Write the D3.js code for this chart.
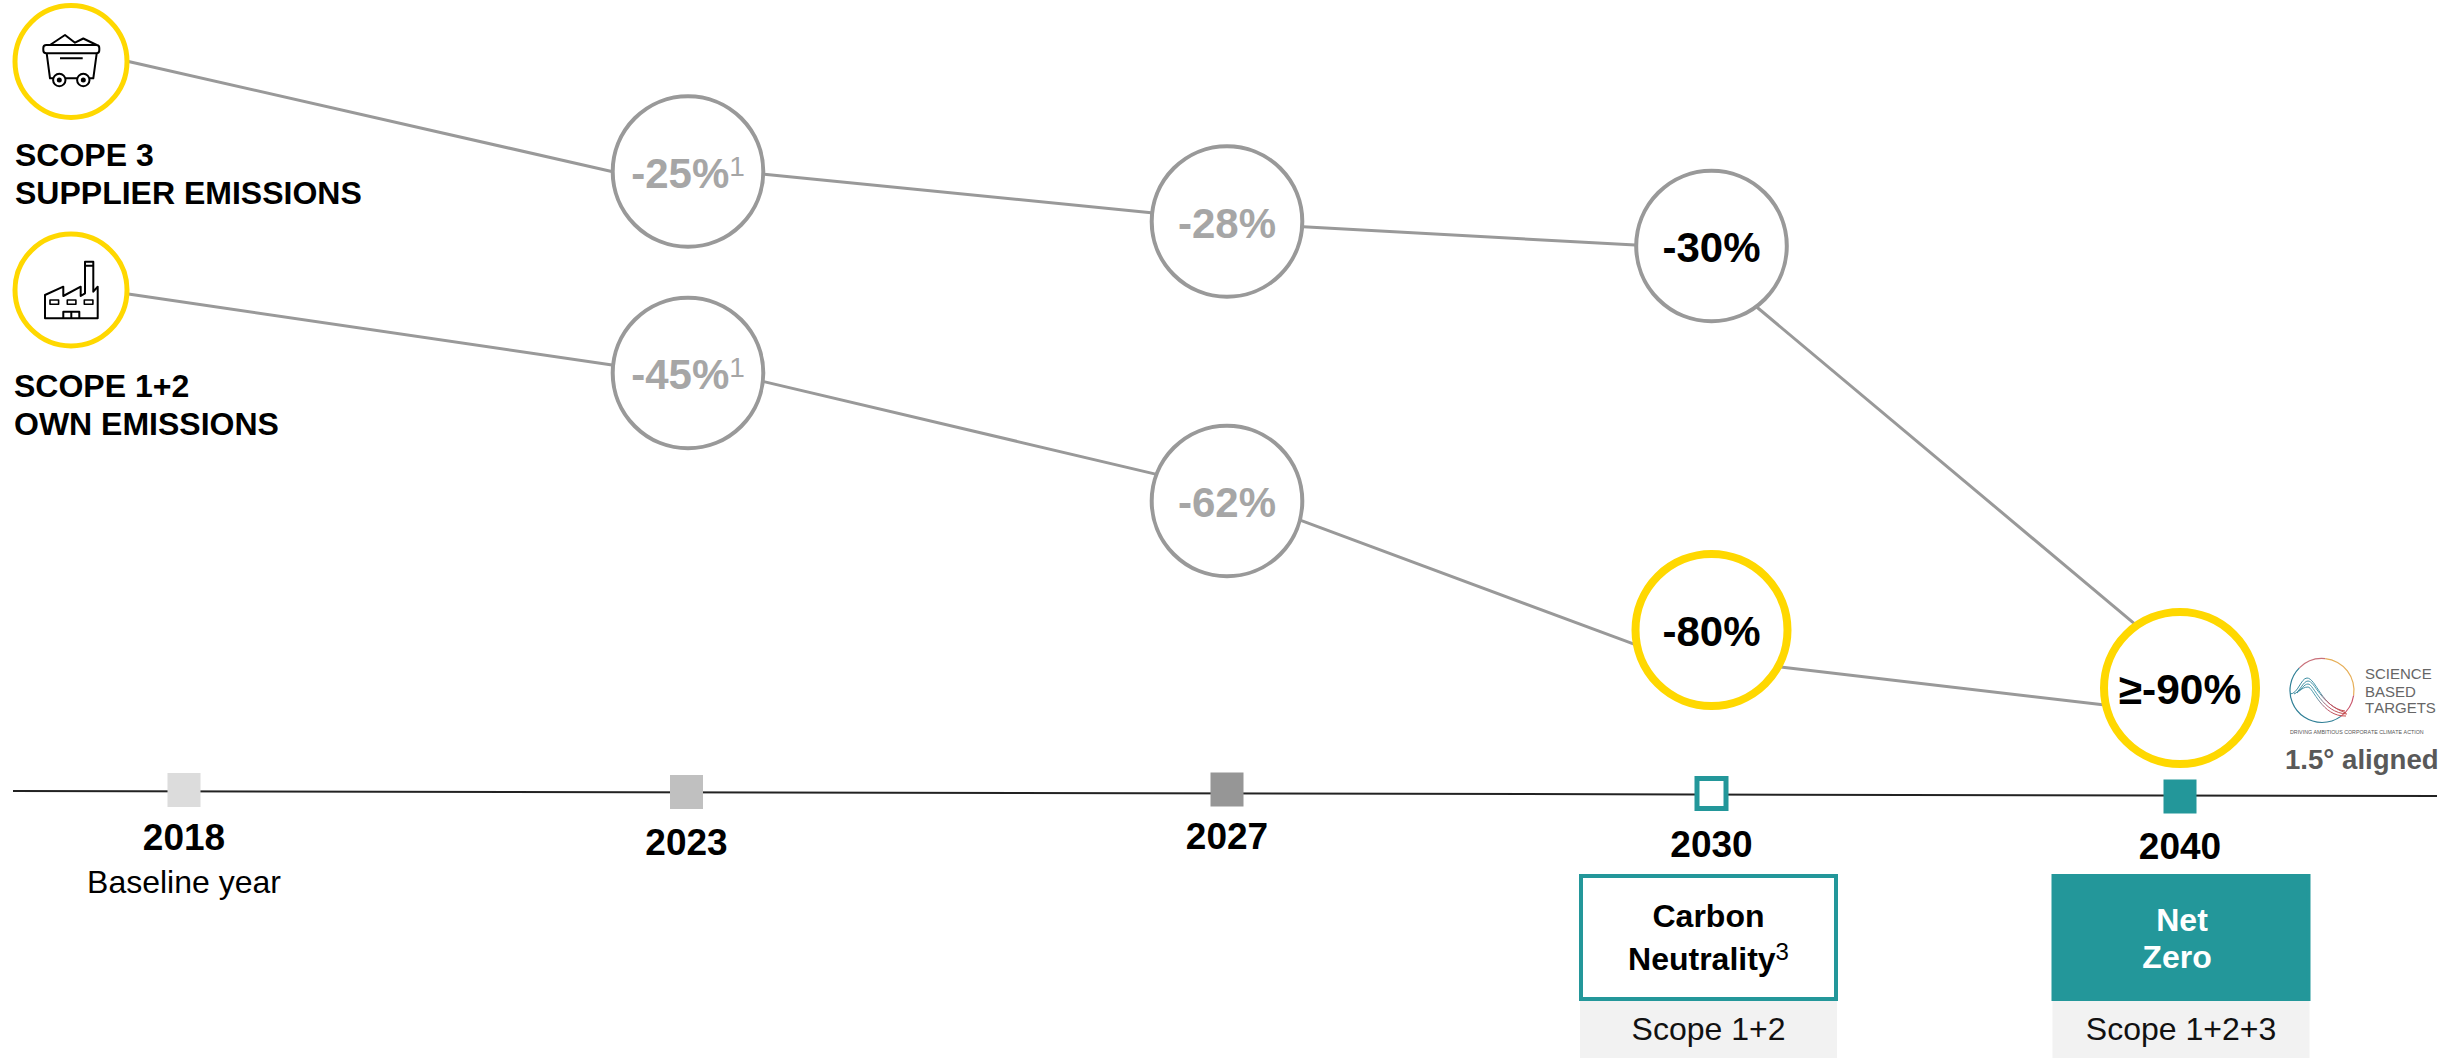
<!DOCTYPE html>
<html>
<head>
<meta charset="utf-8">
<title>Emission reduction targets</title>
<script src="https://cdn.jsdelivr.net/npm/d3@7/dist/d3.min.js"></script>
<style>
  html, body { margin: 0; padding: 0; background: #fff; }
  svg { display: block; }
  text { font-family: "Liberation Sans", Arial, sans-serif; font-kerning: none; }
</style>
</head>
<body>
<script>
// ---- Data ----
const years = [2018, 2023, 2027, 2030, 2040];
const yearNotes = ["Baseline year", "", "", "", ""];
const scope3Values = [0, -25, -28, -30, -90];
const scope12Values = [0, -45, -62, -80, -90];
const scope3Labels = ["", "-25%", "-28%", "-30%", "≥-90%"];
const scope12Labels = ["", "-45%", "-62%", "-80%", "≥-90%"];
const scope3Notes = ["", "1", "", "", ""];
const scope12Notes = ["", "1", "", "", ""];
const scope3Title = ["SCOPE 3", "SUPPLIER EMISSIONS"];
const scope12Title = ["SCOPE 1+2", "OWN EMISSIONS"];
const targetNames = [["Carbon", "Neutrality"], ["Net", "Zero"]];
const targetScopes = ["Scope 1+2", "Scope 1+2+3"];
const targetYears = [2030, 2040];
const logoWords = ["SCIENCE", "BASED", "TARGETS"];
const logoTagline = "DRIVING AMBITIOUS CORPORATE CLIMATE ACTION";
const alignmentNote = "1.5° aligned";

// ---- Palette ----
const teal = "#23979a", yellow = "#ffd800", grey = "#999999", greyText = "#a6a6a6";
const tickFills = d3.scaleOrdinal().domain(years).range(["#dcdcdc", "#c0c0c0", "#969696", "#ffffff", teal]);
const nodeTextFill = d3.scaleOrdinal().domain(years).range(["#000", greyText, greyText, "#000", "#000"]);

// ---- Scales ----
const width = 2463, height = 1058;
const x = d3.scaleOrdinal().domain(years).range([184, 686.5, 1227, 1711.5, 2180]);
const nodeX = d3.scaleOrdinal().domain(years).range([71, 688, 1227, 1711.5, 2180]);
const axisX = d3.scaleLinear().domain([0, 1]).range([13, 2437]);
const axisY = d3.scaleLinear().domain([0, 1]).range([791, 796]);
const tickY = d3.scaleOrdinal().domain(years).range([790, 792, 789.5, 793.5, 796.5]);
const yearBaseline = d3.scaleOrdinal().domain(years).range([850, 855, 849, 857, 859]);
const yScope3 = d3.scaleLinear().domain(scope3Values).range([61.5, 171.5, 221.5, 246, 688]);
const yScope12 = d3.scaleLinear().domain(scope12Values).range([290, 373, 501, 630, 688]);

// Where each connector leaves one circle and enters the next (degrees, clockwise from east)
const scope3Exit = [0, 2, 3.9, 53.4];
const scope3Entry = [180, 186.6, 180.7, 234.7];
const scope12Exit = [4, 6.5, 14.7, 28.7];
const scope12Entry = [186, 200.6, 168.5, 167.7];

const outerRadius = i => i === 0 ? 58.5 : i === 4 ? 80 : 77.3;
const ringRadius = (i, label) => i === 0 ? 56 : (label === "-80%" || i === 4) ? 76 : 75.3;

const svg = d3.select("body").append("svg").attr("width", width).attr("height", height).attr("viewBox", `0 0 ${width} ${height}`);
svg.append("rect").attr("width", width).attr("height", height).attr("fill", "#fff");

const defs = svg.append("defs");
const curveGradient = defs.append("linearGradient").attr("id", "logoCurves")
  .attr("gradientUnits", "userSpaceOnUse").attr("x1", 2290).attr("x2", 2350).attr("y1", 680).attr("y2", 715);
curveGradient.selectAll("stop").data([["0%", "#2f7f96"], ["45%", "#4f9fb0"], ["65%", "#b9586c"], ["100%", "#c6453f"]])
  .join("stop").attr("offset", d => d[0]).attr("stop-color", d => d[1]);

// ---- Series connectors ----
const lineGen = d3.line();
function pointOn(cx, cy, r, deg) {
  const a = deg * Math.PI / 180;
  return [cx + r * Math.cos(a), cy + r * Math.sin(a)];
}
function drawConnectors(values, yScale, exits, entries) {
  const segments = d3.pairs(d3.range(values.length)).map(([a, b], i) => [
    pointOn(nodeX(years[a]), yScale(values[a]), outerRadius(a) - 1, exits[i]),
    pointOn(nodeX(years[b]), yScale(values[b]), outerRadius(b) - 1, entries[i])
  ]);
  svg.append("g").selectAll("path").data(segments).join("path")
    .attr("d", lineGen).attr("fill", "none").attr("stroke", grey).attr("stroke-width", 3);
}
drawConnectors(scope3Values, yScope3, scope3Exit, scope3Entry);
drawConnectors(scope12Values, yScope12, scope12Exit, scope12Entry);

// ---- Percentage circles ----
function drawNodes(values, labels, notes, yScale) {
  const nodes = values.map((v, i) => ({ v, i, label: labels[i], note: notes[i], year: years[i] }));
  const g = svg.append("g").selectAll("g").data(nodes).join("g")
    .attr("transform", d => `translate(${nodeX(d.year)},${yScale(d.v)})`);
  g.append("circle")
    .attr("r", d => ringRadius(d.i, d.label))
    .attr("fill", "#fff")
    .attr("stroke", d => (d.i === 0 || d.i === 4 || d.label === "-80%") ? yellow : grey)
    .attr("stroke-width", d => d.i === 0 ? 5 : (d.i === 4 || d.label === "-80%") ? 8 : 4);
  const t = g.filter(d => d.label).append("text")
    .attr("text-anchor", "middle").attr("y", 16)
    .attr("font-size", d => d.i === 4 ? 42.5 : 42).attr("font-weight", 700)
    .attr("fill", d => nodeTextFill(d.year));
  t.append("tspan").text(d => d.label);
  t.filter(d => d.note).append("tspan")
    .attr("dy", -12).attr("font-size", 28).attr("font-weight", 400).text(d => d.note);
}
// The shared 2040 target comes from the Scope 3 series and is drawn once
drawNodes(scope12Values.slice(0, 4), scope12Labels, scope12Notes, yScope12);
drawNodes(scope3Values, scope3Labels, scope3Notes, yScope3);

// ---- Scope icons ----
const icon = svg.append("g").attr("fill", "none").attr("stroke", "#000").attr("stroke-width", 2).attr("stroke-linejoin", "round");
const cart = icon.append("g").attr("transform", `translate(${nodeX(2018)},${yScope3(0)})`);
cart.append("path").attr("d", "M-21,-16.5 L-6,-26.5 L4,-18.8 L12.3,-23 L25.7,-16.5");
cart.append("rect").attr("x", -27.7).attr("y", -16.5).attr("width", 56).attr("height", 8.3).attr("rx", 3);
cart.append("path").attr("d", "M-24.3,-8.2 L-21,16.8 H22.3 L25.7,-8.2 M-11,-3.2 H11.7");
[-11.7, 12.3].forEach(cx => {
  cart.append("circle").attr("cx", cx).attr("cy", 18.5).attr("r", 6.2).attr("fill", "#fff");
  cart.append("circle").attr("cx", cx).attr("cy", 18.5).attr("r", 1.5).attr("fill", "#000");
});
const plant = icon.append("g").attr("transform", `translate(${nodeX(2018)},${yScope12(0)})`);
plant.append("path").attr("d", "M-26,28.3 V5 L-7.7,-3.3 V6 L9.7,-3.3 V6 L14,3.3 V-28.3 H22.3 V1.7 L26.7,-3.3 V28.3 Z M14,-24.3 H22.3");
[-21, -3.7, 13.3].forEach(wx => plant.append("rect").attr("x", wx).attr("y", 10).attr("width", 8.6).attr("height", 4.3).attr("stroke-width", 1.6));
plant.append("path").attr("d", "M-7.7,28.3 V21.7 H8.3 V28.3 M0.3,21.7 V28.3");

// ---- Series titles ----
function drawTitle(lines, xPos, baselines) {
  svg.append("g").selectAll("text").data(lines).join("text")
    .attr("x", xPos).attr("y", (d, i) => baselines[i])
    .attr("font-size", 32).attr("font-weight", 700).attr("fill", "#000").text(d => d);
}
drawTitle(scope3Title, 15, [166, 204]);
drawTitle(scope12Title, 14, [397, 435]);

// ---- Timeline ----
svg.append("path")
  .attr("d", lineGen([[axisX(0), axisY(0)], [axisX(1), axisY(1)]]))
  .attr("stroke", "#222").attr("stroke-width", 2).attr("fill", "none");
const ticks = svg.append("g").selectAll("g").data(years).join("g");
ticks.append("rect")
  .attr("x", d => x(d) - (d === 2030 ? 14.5 : 16.5))
  .attr("y", d => tickY(d) - (d === 2030 ? 15 : 17))
  .attr("width", d => d === 2030 ? 29 : 33)
  .attr("height", d => d === 2030 ? 30 : 34)
  .attr("fill", d => tickFills(d))
  .attr("stroke", d => d === 2030 ? teal : "none")
  .attr("stroke-width", 5);
ticks.append("text")
  .attr("x", d => x(d)).attr("y", d => yearBaseline(d))
  .attr("text-anchor", "middle").attr("font-size", 37).attr("font-weight", 700).text(d => d);
ticks.filter((d, i) => yearNotes[i]).append("text")
  .attr("x", d => x(d)).attr("y", 893)
  .attr("text-anchor", "middle").attr("font-size", 32)
  .text(d => yearNotes[years.indexOf(d)]);

// ---- Target boxes ----
const boxW = 259, boxTop = 874, boxH = 127;
const boxX = d3.scaleOrdinal().domain(targetYears).range([1708.5, 2181]);
const targets = targetYears.map((year, i) => ({ year, i, lines: targetNames[i], scope: targetScopes[i] }));
const boxes = svg.append("g").selectAll("g").data(targets).join("g");
boxes.append("rect")
  .attr("x", d => boxX(d.year) - boxW / 2 + 1).attr("y", boxTop + boxH)
  .attr("width", boxW - 2).attr("height", height - boxTop - boxH).attr("fill", "#f2f2f2");
boxes.append("rect")
  .attr("x", d => boxX(d.year) - boxW / 2 + 2).attr("y", boxTop + 2)
  .attr("width", boxW - 4).attr("height", boxH - 4)
  .attr("fill", d => d.i === 0 ? "#fff" : teal)
  .attr("stroke", teal).attr("stroke-width", 4);
boxes.append("text")
  .attr("x", d => boxX(d.year)).attr("y", 1040)
  .attr("text-anchor", "middle").attr("font-size", 32).attr("fill", "#111").text(d => d.scope);
boxes.append("text")
  .attr("x", d => boxX(d.year) + (d.i === 0 ? 0 : 1)).attr("y", d => d.i === 0 ? 927 : 931)
  .attr("text-anchor", "middle").attr("font-size", 32).attr("font-weight", 700)
  .attr("fill", d => d.i === 0 ? "#000" : "#fff").text(d => d.lines[0]);
const secondLine = boxes.append("text")
  .attr("x", d => boxX(d.year) + (d.i === 0 ? 0 : -4)).attr("y", d => d.i === 0 ? 970 : 968)
  .attr("text-anchor", "middle").attr("font-size", 32).attr("font-weight", 700)
  .attr("fill", d => d.i === 0 ? "#000" : "#fff");
secondLine.append("tspan").text(d => d.lines[1]);
secondLine.filter(d => d.i === 0).append("tspan")
  .attr("dy", -10).attr("font-size", 24).attr("font-weight", 400).text("3");

// ---- Science Based Targets badge ----
const logo = svg.append("g");
const logoC = { x: 2322, y: 690.5, r: 32 };
const ringArc = d3.arc().innerRadius(logoC.r - 0.6).outerRadius(logoC.r + 0.6);
const ringStops = [["#2f7f96", -Math.PI, -Math.PI / 4], ["#c9707a", -Math.PI / 4, 0.1], ["#e6ae57", 0.1, Math.PI * 0.55], ["#c9546a", Math.PI * 0.55, Math.PI * 0.8], ["#2f7f96", Math.PI * 0.8, Math.PI]];
logo.selectAll("path.ring").data(ringStops).join("path").attr("class", "ring")
  .attr("transform", `translate(${logoC.x},${logoC.y})`)
  .attr("fill", d => d[0])
  .attr("d", d => ringArc({ startAngle: d[1], endAngle: d[2] }));
const logoCurves = [
  "M2290,694 C2298,694 2301,678 2307,678 C2316,678 2322,708 2345,711",
  "M2294,694 C2300,692 2303,681 2308,681 C2315,681 2320,704 2346,713",
  "M2297,693 C2301,690 2304,684 2308,684 C2314,684 2322,713 2347,714",
  "M2299,691 C2302,689 2304,687 2308,687 C2313,687 2322,717 2346,716"
];
logo.selectAll("path.curve").data(logoCurves).join("path").attr("class", "curve")
  .attr("d", d => d).attr("fill", "none").attr("stroke", "url(#logoCurves)").attr("stroke-width", 1);
logo.selectAll("text.word").data(logoWords).join("text").attr("class", "word")
  .attr("x", 2365).attr("y", (d, i) => [679, 697, 713][i])
  .attr("font-size", 15).attr("fill", "#666").text(d => d);
logo.append("text").attr("x", 2290).attr("y", 734).attr("font-size", 5.3).attr("fill", "#555").text(logoTagline);
logo.append("text").attr("x", 2285).attr("y", 769).attr("font-size", 27.6).attr("font-weight", 700)
  .attr("fill", "#595959").text(alignmentNote);
</script>
</body>
</html>
